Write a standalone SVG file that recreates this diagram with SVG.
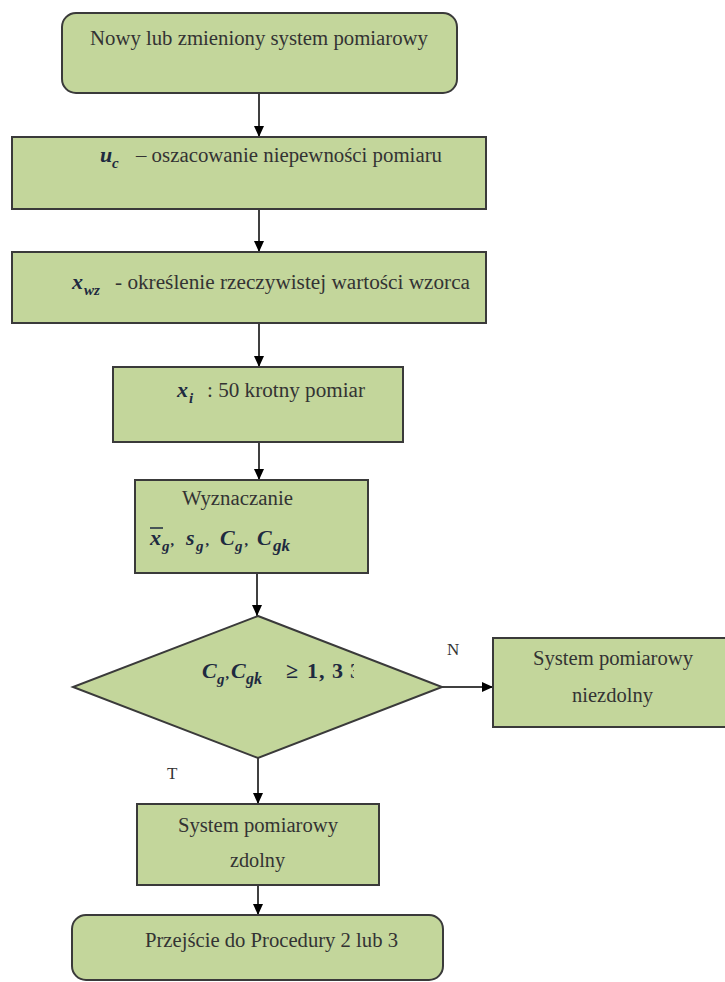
<svg xmlns="http://www.w3.org/2000/svg" width="725" height="982" viewBox="0 0 725 982" xml:space="preserve">
<defs>
<style>
.box{fill:#c3d69b;stroke:#3a3a3a;stroke-width:2}
.t{font-family:"Liberation Serif","Times New Roman",serif;font-size:20px;fill:#333}
.m{font-family:"Liberation Serif","Times New Roman",serif;font-weight:bold;font-style:italic;font-size:22px;fill:#1e2a40}
.s{font-size:15px}
.n{font-style:normal}
.conn{stroke:#000;stroke-width:1.5;fill:none;marker-end:url(#ah)}
</style>
<marker id="ah" markerUnits="userSpaceOnUse" markerWidth="11" markerHeight="10" refX="11" refY="5" orient="auto">
<path d="M0,0 L11,5 L0,10 z" fill="#000"/>
</marker>
<clipPath id="dclip"><rect x="190" y="650" width="164" height="50"/></clipPath>
</defs>
<rect width="725" height="982" fill="#fff"/>
<g id="connectors">
<line class="conn" x1="259" y1="93" x2="259" y2="137"/>
<line class="conn" x1="259" y1="209" x2="259" y2="252"/>
<line class="conn" x1="259" y1="323" x2="259" y2="367"/>
<line class="conn" x1="259" y1="442" x2="259" y2="480"/>
<line class="conn" x1="257" y1="573" x2="257" y2="616"/>
<line class="conn" x1="442" y1="687" x2="493" y2="687"/>
<line class="conn" x1="258" y1="758" x2="258" y2="804"/>
<line class="conn" x1="258" y1="885" x2="258" y2="915"/>
</g>
<g id="n1">
<rect class="box" x="62" y="13" width="395" height="80" rx="14"/>
<text class="t" x="90" y="45" textLength="338" lengthAdjust="spacingAndGlyphs">Nowy lub zmieniony system pomiarowy</text>
</g>
<g id="n2">
<rect class="box" x="12" y="137" width="474" height="72"/>
<text class="m" x="100" y="162">u</text><text class="m s" x="112" y="168">c</text>
<text class="t" x="136" y="162" textLength="306" lengthAdjust="spacingAndGlyphs">– oszacowanie niepewności pomiaru</text>
</g>
<g id="n3">
<rect class="box" x="12" y="252" width="474" height="71"/>
<text class="m" x="72" y="289">x</text><text class="m s" x="84" y="295">wz</text>
<text class="t" x="115" y="289" textLength="355" lengthAdjust="spacingAndGlyphs">- określenie rzeczywistej wartości  wzorca</text>
</g>
<g id="n4">
<rect class="box" x="113" y="367" width="290" height="75"/>
<text class="m" x="177" y="397">x</text><text class="m s" x="189" y="403">i</text>
<text class="t" x="207" y="397" textLength="158" lengthAdjust="spacingAndGlyphs">: 50 krotny pomiar</text>
</g>
<g id="n5">
<rect class="box" x="135" y="480" width="233" height="93"/>
<text class="t" x="182" y="505" textLength="111" lengthAdjust="spacingAndGlyphs">Wyznaczanie</text>
<line x1="150" y1="528" x2="163" y2="528" stroke="#1e2a40" stroke-width="1.5"/>
<text class="m" x="150" y="545">x</text><text class="m s" x="162" y="551">g</text><text class="m s" x="171" y="545">,</text>
<text class="m" x="186" y="545">s</text><text class="m s" x="196" y="551">g</text><text class="m s" x="206" y="545">,</text>
<text class="m" x="220" y="545">C</text><text class="m s" x="235" y="551">g</text><text class="m s" x="245" y="545">,</text>
<text class="m" x="257" y="545">C</text><text class="m s" x="273" y="551" style="font-size:17px">gk</text>
</g>
<g id="d1">
<polygon class="box" points="258,616 442,687 258,758 73,687"/>
<text class="m" x="202" y="678">C</text><text class="m s" x="217" y="684">g</text><text class="m s" x="226" y="678">,</text>
<text class="m" x="231" y="678">C</text><text class="m s" x="246" y="684" style="font-size:16px">gk</text>
<text class="m n" x="286" y="678">≥</text>
<g clip-path="url(#dclip)">
<text class="m n" x="307" y="678">1</text><text class="m n" x="319" y="678">,</text><text class="m n" x="332" y="678">3</text><text class="m n" x="350" y="678">3</text>
</g>
</g>
<g id="lblN"><text class="t" x="447" y="655" style="font-size:17px">N</text></g>
<g id="lblT"><text class="t" x="167" y="779" style="font-size:17px">T</text></g>
<g id="n6">
<rect class="box" x="493" y="638" width="240" height="89"/>
<text class="t" x="533" y="665" textLength="160" lengthAdjust="spacingAndGlyphs">System pomiarowy</text>
<text class="t" x="572" y="702" textLength="81" lengthAdjust="spacingAndGlyphs">niezdolny</text>
</g>
<g id="n7">
<rect class="box" x="137" y="804" width="242" height="81"/>
<text class="t" x="178" y="832" textLength="160" lengthAdjust="spacingAndGlyphs">System pomiarowy</text>
<text class="t" x="230" y="867" textLength="55" lengthAdjust="spacingAndGlyphs">zdolny</text>
</g>
<g id="n8">
<rect class="box" x="72" y="915" width="371" height="65" rx="14"/>
<text class="t" x="145" y="947" textLength="253" lengthAdjust="spacingAndGlyphs">Przejście do Procedury 2 lub 3</text>
</g>
</svg>
